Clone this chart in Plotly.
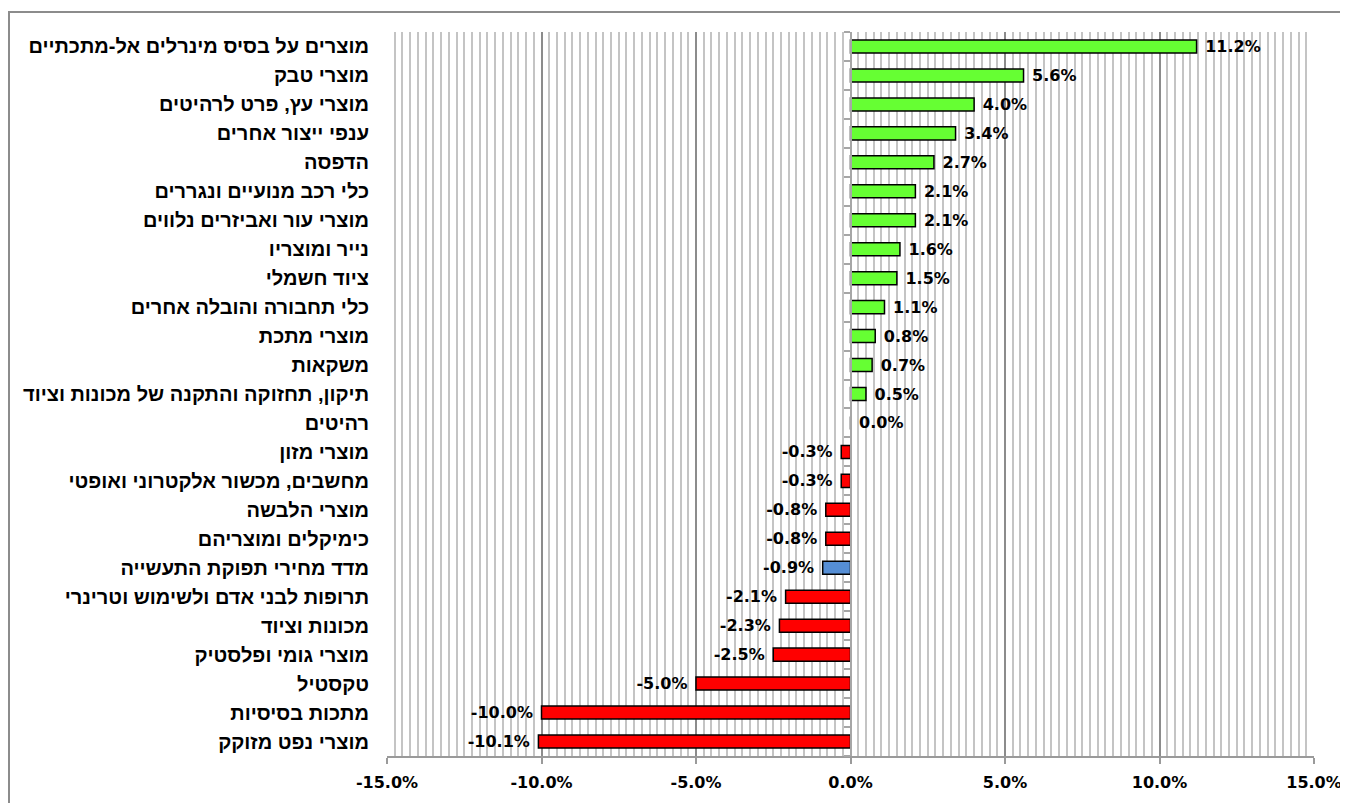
import plotly.graph_objects as go

categories = [
    "מוצרים על בסיס מינרלים אל-מתכתיים",
    "מוצרי טבק",
    "מוצרי עץ, פרט לרהיטים",
    "ענפי ייצור אחרים",
    "הדפסה",
    "כלי רכב מנועיים ונגררים",
    "מוצרי עור ואביזרים נלווים",
    "נייר ומוצריו",
    "ציוד חשמלי",
    "כלי תחבורה והובלה אחרים",
    "מוצרי מתכת",
    "משקאות",
    "תיקון, תחזוקה והתקנה של מכונות וציוד",
    "רהיטים",
    "מוצרי מזון",
    "מחשבים, מכשור אלקטרוני ואופטי",
    "מוצרי הלבשה",
    "כימיקלים ומוצריהם",
    "מדד מחירי תפוקת התעשייה",
    "תרופות לבני אדם ולשימוש וטרינרי",
    "מכונות וציוד",
    "מוצרי גומי ופלסטיק",
    "טקסטיל",
    "מתכות בסיסיות",
    "מוצרי נפט מזוקק",
]
values = [11.2, 5.6, 4.0, 3.4, 2.7, 2.1, 2.1, 1.6, 1.5, 1.1, 0.8, 0.7, 0.5, 0.0,
          -0.3, -0.3, -0.8, -0.8, -0.9, -2.1, -2.3, -2.5, -5.0, -10.0, -10.1]
index_name = "מדד מחירי תפוקת התעשייה"
x_ticks = [-15, -10, -5, 0, 5, 10, 15]

GREEN = "#66FF33"
RED = "#FF0000"
BLUE = "#558ED5"
colors = [BLUE if c == index_name else (GREEN if v >= 0 else RED)
          for c, v in zip(categories, values)]

FONT = "DejaVu Sans"
HEB_FONT = "Liberation Sans"
NB = "\u00a0"
labels = [(NB + f"{v:.1f}%") if v >= 0 else (f"{v:.1f}%" + NB) for v in values]

fig = go.Figure()
fig.add_trace(go.Bar(
    x=values, y=categories, orientation="h",
    marker=dict(color=colors, line=dict(color="#000000", width=1.5)),
    width=0.45,
    text=labels,
    textposition="outside",
    constraintext="none",
    textfont=dict(family=FONT, size=16, color="#000000", weight="bold"),
    cliponaxis=False,
    showlegend=False,
))
# invisible trace for the zero-position category axis
fig.add_trace(go.Scatter(x=[0], y=[0], yaxis="y2", mode="markers",
                         marker=dict(opacity=0), showlegend=False, hoverinfo="skip"))

n = len(categories)
fig.update_layout(
    width=1340, height=795,
    margin=dict(l=379, r=34, t=24, b=47, autoexpand=False),
    paper_bgcolor="white", plot_bgcolor="white",
    font=dict(family=FONT, color="#000000"),
    xaxis=dict(
        range=[-15, 15], tickvals=x_ticks,
        ticktext=[f"{t:.1f}%" for t in x_ticks],
        tickfont=dict(family=FONT, size=16, weight="bold", color="#000000"),
        showgrid=True, gridcolor="#8c8c8c", gridwidth=2,
        minor=dict(dtick=0.25, tick0=0, showgrid=True, gridcolor="#c4c4c4", gridwidth=1.5),
        zeroline=False,
        showline=True, linecolor="#9a9a9a", linewidth=2,
        ticks="outside", ticklen=6, tickcolor="#9a9a9a", tickwidth=2,
        ticklabelstandoff=5, automargin=False,
        fixedrange=True,
    ),
    yaxis=dict(
        categoryorder="array", categoryarray=categories,
        autorange="reversed",
        tickfont=dict(family=HEB_FONT, size=20, weight="bold", color="#000000"),
        showgrid=False, zeroline=False, showline=False, ticks="",
        ticklabelstandoff=17, automargin=False,
    ),
    yaxis2=dict(
        overlaying="y", anchor="free", position=0.5, side="left",
        range=[n - 0.5, -0.5],
        tickvals=[k - 0.5 for k in range(n + 1)],
        showticklabels=False, showgrid=False, zeroline=False,
        showline=True, linecolor="#a6a6a6", linewidth=2,
        ticks="outside", ticklen=6, tickcolor="#a6a6a6", tickwidth=1.5,
        automargin=False,
    ),
    shapes=[dict(
        type="rect", xref="paper", yref="paper",
        x0=(9 - 387) / 927, x1=1.2, y0=-0.2, y1=1 + (32 - 12) / 724,
        line=dict(color="#8c8c8c", width=2), fillcolor="rgba(0,0,0,0)", layer="below",
    )],
)

fig.write_html("out.html")
